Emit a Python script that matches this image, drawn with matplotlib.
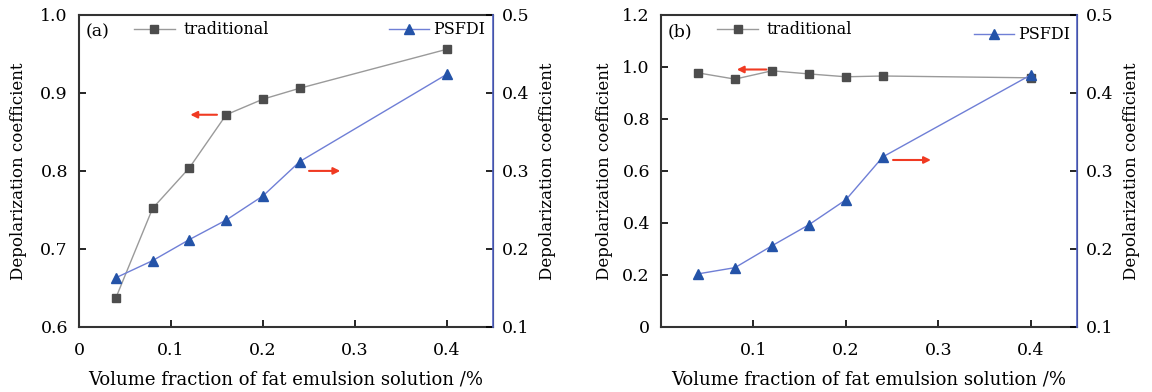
import numpy as np
import matplotlib.pyplot as plt

plt.rcParams['font.family'] = 'DejaVu Serif'
plt.rcParams['font.size'] = 12

x = [0.04, 0.08, 0.12, 0.16, 0.2, 0.24, 0.4]
# panel (a)
tradA = [0.637, 0.752, 0.804, 0.872, 0.892, 0.906, 0.956]
psfdiA = [0.163, 0.185, 0.212, 0.237, 0.268, 0.312, 0.424]
# panel (b)
tradB = [0.977, 0.953, 0.985, 0.973, 0.962, 0.965, 0.958]
psfdiB = [0.168, 0.176, 0.204, 0.231, 0.263, 0.318, 0.423]

gray_line = '#9a9a9a'
gray_mk = '#4d4d4d'
blue_line = '#6f7fd6'
blue_mk = '#2453a8'
spine_blue = '#5566c8'
red = '#f03a22'

fig = plt.figure(figsize=(11.52, 3.92), dpi=100)
axA = fig.add_axes([79 / 1152, 0.166, 414 / 1152, 0.796])
axB = fig.add_axes([661 / 1152, 0.166, 416 / 1152, 0.796])


def panel(ax, trad, psfdi, ylim, yticks, yticklabels, tag, xticklabels,
          arrL, arrR, leg1, leg2, lpad):
    l1, = ax.plot(x, trad, '-s', color=gray_line, lw=1, mfc=gray_mk, mec=gray_mk, ms=6)
    ax.set_xlim(0, 0.45)
    ax.set_ylim(*ylim)
    ax.set_yticks(yticks)
    ax.set_yticklabels(yticklabels)
    ax.set_xticks([0, 0.1, 0.2, 0.3, 0.4])
    ax.set_xticklabels(xticklabels)
    ax.tick_params(direction='in', length=5, width=1.2, labelsize=12.5)
    ax.tick_params(axis='y', pad=8)
    ax.tick_params(axis='x', pad=11)
    ax.set_xlabel('Volume fraction of fat emulsion solution /%', fontsize=13, labelpad=8)
    ax.set_ylabel('Depolarization coefficient', labelpad=lpad)
    for s in ['left', 'bottom', 'top']:
        ax.spines[s].set_linewidth(1.5)
        ax.spines[s].set_color('#333333')
    ax.text(0.015, 0.946, tag, transform=ax.transAxes, va='center', ha='left', fontsize=12.5)
    ax.legend([l1], ['traditional'], loc='center left', bbox_to_anchor=leg1,
              frameon=False, fontsize=11.5, handlelength=2.55, handletextpad=0.55,
              borderpad=0, borderaxespad=0)

    ax2 = ax.twinx()
    l2, = ax2.plot(x, psfdi, '-^', color=blue_line, lw=1, mfc=blue_mk, mec=blue_mk, ms=7)
    ax2.set_ylim(0.1, 0.5)
    ax2.set_yticks([0.1, 0.2, 0.3, 0.4, 0.5])
    ax2.set_yticklabels(['0.1', '0.2', '0.3', '0.4', '0.5'])
    ax2.tick_params(direction='in', length=5, width=1.2, pad=6.5, labelsize=12.5)
    ax2.spines['right'].set_color(spine_blue)
    ax2.spines['right'].set_linewidth(1.2)
    for s in ['left', 'bottom', 'top']:
        ax2.spines[s].set_visible(False)
    ax2.set_ylabel('Depolarization coefficient', labelpad=7)
    ax2.legend([l2], ['PSFDI'], loc='center right', bbox_to_anchor=leg2,
               frameon=False, fontsize=11.5, handlelength=2.5, handletextpad=0.25,
               borderpad=0, borderaxespad=0)

    ax.annotate('', xy=(arrL[0], arrL[2]), xytext=(arrL[1], arrL[2]),
                arrowprops=dict(arrowstyle='-|>', color=red, lw=1.5, mutation_scale=10))
    ax2.annotate('', xy=(arrR[1], arrR[2]), xytext=(arrR[0], arrR[2]),
                 arrowprops=dict(arrowstyle='-|>', color=red, lw=1.5, mutation_scale=10))


panel(axA, tradA, psfdiA, (0.6, 1.0), [0.6, 0.7, 0.8, 0.9, 1.0],
      ['0.6', '0.7', '0.8', '0.9', '1.0'], '(a)',
      ['0', '0.1', '0.2', '0.3', '0.4'],
      (0.118, 0.153, 0.872), (0.247, 0.287, 0.3),
      (0.133, 0.952), (0.981, 0.952), 9.5)
panel(axB, tradB, psfdiB, (0, 1.2), [0, 0.2, 0.4, 0.6, 0.8, 1.0, 1.2],
      ['0', '0.2', '0.4', '0.6', '0.8', '1.0', '1.2'], '(b)',
      ['', '0.1', '0.2', '0.3', '0.4'],
      (0.079, 0.117, 0.99), (0.248, 0.295, 0.314),
      (0.135, 0.952), (0.983, 0.936), 6.5)

fig.savefig('out.png', dpi=100)
